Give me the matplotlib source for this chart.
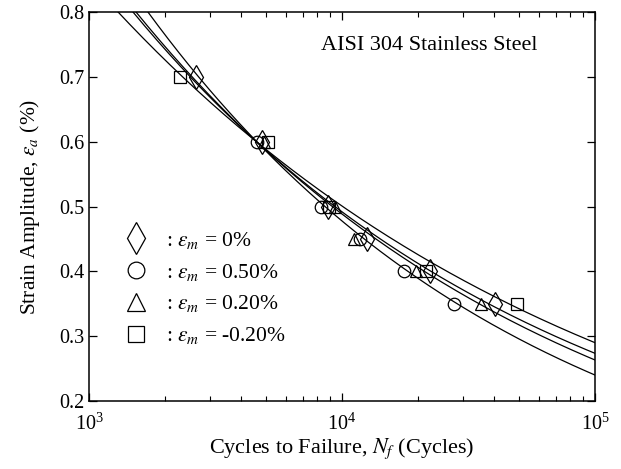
import numpy as np
import matplotlib
matplotlib.use("Agg")
import matplotlib.pyplot as plt
from matplotlib.lines import Line2D

plt.rcParams['font.family'] = ['Liberation Serif', 'DejaVu Serif']
plt.rcParams['mathtext.fontset'] = 'stix'

# test data: cycles to failure at each strain amplitude (%)
labels = [r': $\varepsilon_m$ = 0%', r': $\varepsilon_m$ = 0.50%',
          r': $\varepsilon_m$ = 0.20%', r': $\varepsilon_m$ = -0.20%']
markers = ['d', 'o', '^', 's']

nf_m0 = [2650, 4850, 8800, 12600, 22300, 40200]
ea_m0 = [0.70, 0.60, 0.50, 0.45, 0.40, 0.35]

nf_m050 = [4600, 8300, 11800, 17600, 27700]
ea_m050 = [0.60, 0.50, 0.45, 0.40, 0.35]

nf_m020 = [4900, 9400, 11200, 19700, 35600]
ea_m020 = [0.60, 0.50, 0.45, 0.40, 0.35]

nf_mneg020 = [2290, 5100, 8900, 21500, 49200]
ea_mneg020 = [0.70, 0.60, 0.50, 0.40, 0.35]

# fitted life curves: ln(ea) = p0 + p1*u + p2*u^2, u = log10(Nf) - 4
fit_m0 = [-0.7096, -0.5878, 0.0013]
fit_m050 = [-0.7387, -0.6791, -0.0090]
fit_m020 = [-0.7165, -0.6114, -0.0066]
fit_mneg020 = [-0.6916, -0.5373, -0.0090]

series = [(nf_m0, ea_m0, fit_m0), (nf_m050, ea_m050, fit_m050),
          (nf_m020, ea_m020, fit_m020), (nf_mneg020, ea_mneg020, fit_mneg020)]

fig = plt.figure(figsize=(6.21, 4.69), dpi=100)
ax = fig.add_axes([0.1433, 0.145, 0.8147, 0.8294])

nn = np.logspace(3, 5, 300)
u = np.log10(nn) - 4
for nf, ea, p in series:
    ax.plot(nn, np.exp(p[0] + p[1] * u + p[2] * u ** 2), color='k', lw=0.9)

handles = []
for (nf, ea, p), m, lab in zip(series, markers, labels):
    ms = 12 if m == 'd' else 9
    ax.plot(nf, ea, ls='none', marker=m, ms=ms, mfc='none', mec='k', mew=0.9)
    lms = {'d': 16, 'o': 12, '^': 13, 's': 11}[m]
    handles.append(Line2D([], [], ls='none', marker=m, ms=lms,
                          mfc='none', mec='k', mew=0.9, label=lab))

ax.set_xscale('log')
ax.set_xlim(1e3, 1e5)
ax.set_ylim(0.2, 0.8)
ax.set_yticks(np.arange(0.2, 0.81, 0.1))
ax.set_yticklabels(['0.2', '0.3', '0.4', '0.5', '0.6', '0.7', '0.8'])
ax.tick_params(which='both', direction='in', top=True, right=True, labelsize=14.5)
ax.tick_params(which='major', length=6, width=0.9)
ax.tick_params(which='minor', length=3.5, width=0.8)
ax.tick_params(axis='x', pad=9)
for s in ax.spines.values():
    s.set_linewidth(1.1)

ax.set_xlabel(r'Cycles to Failure, $N_f$ (Cycles)', fontsize=16, labelpad=1)
ax.set_ylabel(r'Strain Amplitude, $\varepsilon_a$ (%)', fontsize=15.5, labelpad=12)

ax.text(0.672, 0.913, 'AISI 304 Stainless Steel', transform=ax.transAxes,
        ha='center', va='center', fontsize=16)

ax.legend(handles=handles, loc='upper left', bbox_to_anchor=(0.03, 0.49),
          frameon=False, fontsize=15.5, handlelength=1.2, handletextpad=0.75,
          labelspacing=0.5)

fig.savefig('out.png', dpi=100)
